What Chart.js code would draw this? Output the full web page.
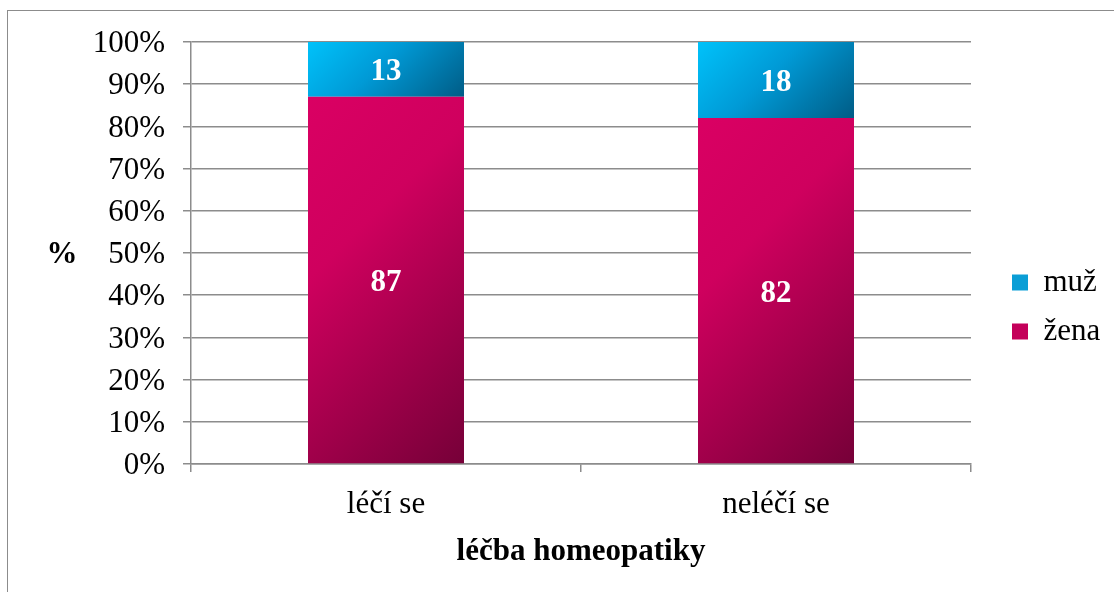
<!DOCTYPE html>
<html>
<head>
<meta charset="utf-8">
<script src="https://cdn.jsdelivr.net/npm/chart.js@4/dist/chart.umd.min.js"></script>
<style>
  body { margin: 0; background: #fff; }
  #obal { position: relative; width: 1114px; height: 592px; overflow: hidden; }
  #ramecek { position: absolute; left: 7px; top: 10px; width: 1200px; height: 700px; border: 1px solid #8c8c8c; }
  #graf { position: absolute; left: 0; top: 0; }
</style>
</head>
<body>
<div id="obal">
  <div id="ramecek"></div>
  <canvas id="graf" width="1114" height="592"></canvas>
</div>
<script>
// data z grafu (procenta)
const kategorie = ['léčí se', 'neléčí se'];
const zena = [87, 82];
const muz = [13, 18];
const popiskyOsyY = [0, 10, 20, 30, 40, 50, 60, 70, 80, 90, 100];

const SIRKA_SLOUPCE = 0.4;
const seda = '#8c8c8c';

Chart.defaults.font.family = "'Liberation Serif', 'Times New Roman', serif";
Chart.defaults.font.size = 31;
Chart.defaults.color = '#000';

// přechod barvy pro každý sloupec zvlášť (vlevo nahoře světlejší, vpravo dole tmavší, pod 45°)
function prechod(barvy, nahradni) {
    return function (ctx) {
        const chart = ctx.chart;
        if (ctx.type !== 'data' || !chart.chartArea || !chart.scales.x || !chart.scales.y) {
            return nahradni;
        }
        const x = chart.scales.x;
        const y = chart.scales.y;
        const stred = x.getPixelForValue(ctx.dataIndex);
        const w = x.width / kategorie.length * SIRKA_SLOUPCE;
        let spodek = 0;
        for (let d = 0; d < ctx.datasetIndex; d++) {
            spodek += chart.data.datasets[d].data[ctx.dataIndex];
        }
        const vrch = spodek + chart.data.datasets[ctx.datasetIndex].data[ctx.dataIndex];
        const x0 = stred - w / 2;
        const y0 = y.getPixelForValue(vrch);
        const h = y.getPixelForValue(spodek) - y0;
        const d = (w + h) / 2;
        const g = chart.ctx.createLinearGradient(x0, y0, x0 + d, y0 + d);
        barvy.forEach(function (b) { g.addColorStop(b[0], b[1]); });
        return g;
    };
}

const barvyZena = [[0, '#da0063'], [0.35, '#cf005e'], [1, '#760038']];
const barvyMuz = [[0, '#00c2fa'], [0.45, '#009ad6'], [1, '#005c86']];
const legendaBarvy = ['#c4005a', '#0a9ed6'];

// popisky hodnot uvnitř sloupců
const popiskyHodnot = {
    id: 'popiskyHodnot',
    afterDatasetsDraw(chart) {
        const c = chart.ctx;
        c.save();
        c.fillStyle = '#fff';
        c.font = "bold 31px 'Liberation Serif', 'Times New Roman', serif";
        c.textAlign = 'center';
        c.textBaseline = 'middle';
        chart.data.datasets.forEach(function (ds, i) {
            chart.getDatasetMeta(i).data.forEach(function (el, j) {
                c.fillText(ds.data[j], el.x, (el.y + el.base) / 2 + 3);
            });
        });
        c.restore();
    }
};

// vodorovný popisek osy Y "%"
const nazevOsyY = {
    id: 'nazevOsyY',
    afterDraw(chart) {
        const c = chart.ctx;
        c.save();
        c.fillStyle = '#000';
        c.font = "bold 31px 'Liberation Serif', 'Times New Roman', serif";
        c.textAlign = 'center';
        c.textBaseline = 'middle';
        c.fillText('%', 62, chart.scales.y.getPixelForValue(50) + 2);
        c.restore();
    }
};

// posun legendy doprava a dolů jako v originále
const posunLegendy = {
    id: 'posunLegendy',
    afterInit(chart) {
        const puvodni = chart.legend.fit;
        chart.legend.fit = function () {
            puvodni.call(this);
            this.width = 143;
        };
    },
    afterLayout(chart) {
        const l = chart.legend;
        l.left += 23;
        l.right += 23;
        l.top -= 10;
        l.bottom -= 10;
    }
};

const ctx = document.getElementById('graf');
new Chart(ctx, {
    type: 'bar',
    data: {
        labels: kategorie,
        datasets: [{
            label: 'žena',
            data: zena,
            backgroundColor: prechod(barvyZena, legendaBarvy[0]),
            barPercentage: SIRKA_SLOUPCE,
            categoryPercentage: 1
        }, {
            label: 'muž',
            data: muz,
            backgroundColor: prechod(barvyMuz, legendaBarvy[1]),
            barPercentage: SIRKA_SLOUPCE,
            categoryPercentage: 1
        }]
    },
    options: {
        responsive: false,
        animation: false,
        layout: {
            padding: { left: 8, top: 42, right: 0, bottom: 0 }
        },
        plugins: {
            legend: {
                position: 'right',
                reverse: true,
                labels: {
                    boxWidth: 16,
                    boxHeight: 16,
                    padding: 18,
                    font: { size: 31 },
                    generateLabels(chart) {
                        const polozky = Chart.defaults.plugins.legend.labels.generateLabels(chart);
                        polozky.forEach(function (p) {
                            p.fillStyle = legendaBarvy[p.datasetIndex];
                            p.strokeStyle = legendaBarvy[p.datasetIndex];
                            p.lineWidth = 0;
                        });
                        return polozky;
                    }
                }
            },
            tooltip: { enabled: false }
        },
        scales: {
            x: {
                stacked: true,
                grid: {
                    display: true,
                    drawOnChartArea: false,
                    drawTicks: true,
                    tickLength: 8,
                    color: seda,
                    lineWidth: 1.5
                },
                border: { display: true, color: seda, width: 1.5 },
                ticks: { padding: 14, font: { size: 31 } },
                title: {
                    display: true,
                    text: 'léčba homeopatiky',
                    font: { size: 31, weight: 'bold' },
                    padding: { top: 0, bottom: 21 }
                },
                afterFit(scale) { scale.height = 128; }
            },
            y: {
                stacked: true,
                min: popiskyOsyY[0],
                max: popiskyOsyY[popiskyOsyY.length - 1],
                grid: {
                    color: seda,
                    lineWidth: 1.5,
                    tickLength: 8
                },
                border: { display: true, color: seda, width: 1.5 },
                ticks: {
                    stepSize: 10,
                    padding: 18,
                    labelOffset: 2,
                    font: { size: 31 },
                    callback: function (v) { return v + '%'; }
                },
                afterFit(scale) { scale.width = 183; }
            }
        }
    },
    plugins: [popiskyHodnot, nazevOsyY, posunLegendy]
});
</script>
</body>
</html>
